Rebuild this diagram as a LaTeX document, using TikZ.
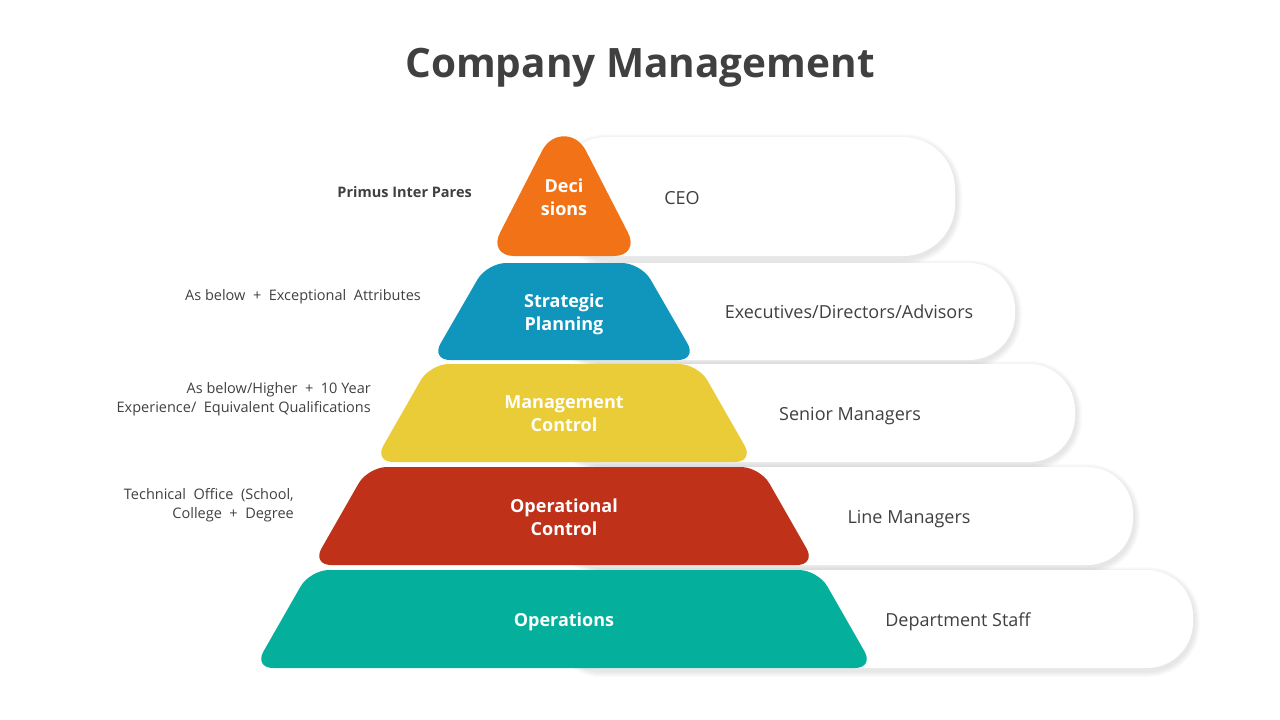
\documentclass[tikz,border=0pt]{standalone}
\usepackage{fontspec}
\setmainfont{Open Sans}
\usetikzlibrary{calc}

\definecolor{txtgray}{HTML}{404040}
\definecolor{decorange}{HTML}{F27317}
\definecolor{stratblue}{HTML}{1096BD}
\definecolor{mgmtyellow}{HTML}{EACB38}
\definecolor{operred}{HTML}{C0311A}
\definecolor{opsteal}{HTML}{04B09C}

\begin{document}
\begin{tikzpicture}[line cap=round,line join=round,x=1pt,y=-1pt,
  pill/.style={fill=white},
  pillshadow/.style={fill=black,opacity=0.014},
  level/.style={rounded corners=19pt},
  lvltext/.style={text=white,font=\fontsize{18}{23}\selectfont\bfseries,align=center,inner sep=0pt},
  rtext/.style={text=txtgray,font=\fontsize{18}{22}\selectfont,inner sep=0pt},
  ltext/.style={text=txtgray,font=\fontsize{14.5}{19}\selectfont,align=right,anchor=east,inner sep=0pt}]
\useasboundingbox (0,0) rectangle (1280,720);
\node[font=\fontsize{40.5}{48}\selectfont\bfseries,text=txtgray] (title) at (640,68) {Company Management};
% white bands with soft shadow
\foreach \t/\b/\r/\rad in {137/256/955/52,263/360/1015/46,364/462/1075/46,467/565/1133/46,570/668/1193/46}{
  \foreach \s in {1,...,6}
    \fill[pillshadow,rounded corners=\rad pt+\s pt] (555-\s,\t-\s+3) rectangle (\r+\s+1,\b+\s+3);
  \fill[pill,rounded corners=\rad pt] (555,\t) rectangle (\r,\b);
}
% pyramid
\fill[decorange] (564,256) -- (614,256) .. controls (628.3,256) and (634.6,245.6) .. (628.1,232.9)
  -- (585.9,150.7) .. controls (576,131.5) and (552,131.5) .. (542.1,150.7)
  -- (499.9,232.9) .. controls (493.4,245.6) and (499.7,256) .. (514,256) -- cycle;
\foreach \t/\b/\tw/\bw/\c in {263/360/77/133/stratblue,364/462/134/190/mgmtyellow,
  467/565/196/252/operred,570/668/254/310/opsteal}
  \fill[\c,level] (564-\tw,\t) -- (564+\tw,\t) -- (564+\bw,\b) -- (564-\bw,\b) -- cycle;
% labels inside the pyramid
\node[lvltext] (decisions) at (564,197) {Deci\\sions};
\node[lvltext] (strategic) at (564,314) {Strategic\\Planning};
\node[lvltext] (management) at (564,414) {Management\\Control};
\node[lvltext] (operational) at (564,517) {Operational\\Control};
\node[lvltext] (operations) at (564,622) {Operations};
% roles
\node[rtext] (ceo) at (682,198) {CEO};
\node[rtext] (executives) at (849,312) {Executives/Directors/Advisors};
\node[rtext] (senior) at (850,416) {Senior Managers};
\node[rtext] (linemgr) at (909,519) {Line Managers};
\node[rtext] (staff) at (958,622) {Department Staff};
% requirements
\node[ltext,font=\fontsize{14.5}{19}\selectfont\bfseries] (primus) at (472,192) {Primus Inter Pares};
\node[ltext] (exceptional) at (421,297) {As below\ \ +\ \ Exceptional\ \ Attributes};
\node[ltext] (experience) at (371,399) {As below/Higher\ \ +\ \ 10 Year\\Experience/\ \ Equivalent\ Qualifications};
\node[ltext] (technical) at (294,505) {Technical\ \ Office\ \ (School,\\College\ \ +\ \ Degree};
\end{tikzpicture}
\end{document}
